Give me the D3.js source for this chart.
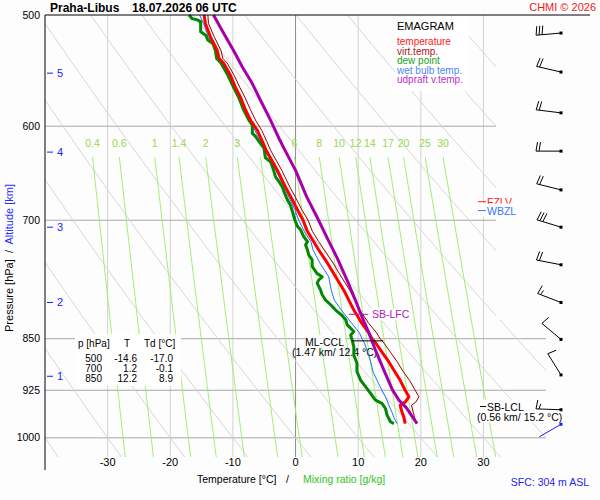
<!DOCTYPE html>
<html>
<head>
<meta charset="utf-8">
<script src="https://cdn.jsdelivr.net/npm/d3@7"></script>
<style>
  body { margin: 0; background: #fff; }
  svg text { font-family: "Liberation Sans", Arial, sans-serif; }
</style>
</head>
<body>
<div id="emagram" style="width:600px;height:500px"></div>
<script>
// sounding (pressure levels in hPa, temperatures in deg C)
const levels = [500, 507, 518, 530, 537, 541, 552, 563, 572, 584, 594, 604, 615, 624, 645, 663, 677, 688, 700, 713, 725, 735, 751, 768, 785, 798, 811, 829, 842, 850, 856, 869, 883, 898, 910, 925, 935, 943, 948, 959, 967, 977];
const temperature = [-14.6, -14.4, -13.6, -12.5, -12.2, -11.5, -10.4, -9.6, -8.8, -8.0, -7.2, -6.1, -5.3, -4.7, -2.9, -1.6, -0.5, 0.3, 1.2, 1.9, 2.9, 3.7, 5.1, 6.4, 7.7, 8.5, 9.3, 10.6, 11.7, 12.2, 12.8, 13.8, 14.9, 15.9, 16.7, 17.5, 18.1, 17.5, 16.7, 17.0, 17.3, 17.5];
const virtTemp = [-14.0, -13.9, -13.0, -11.9, -11.6, -10.9, -9.8, -8.9, -8.1, -7.2, -6.4, -5.4, -4.6, -4.0, -2.2, -0.9, 0.2, 1.0, 2.0, 2.7, 3.7, 4.6, 6.0, 7.3, 8.65, 9.45, 10.25, 11.7, 12.95, 13.5, 14.1, 15.15, 16.25, 17.25, 18.2, 19.1, 19.7, 19.2, 18.5, 18.8, 19.0, 19.3];
const wetBulb = [-15.3, -14.7, -13.9, -12.7, -12.4, -11.7, -10.6, -9.8, -9.0, -8.2, -7.35, -6.5, -5.55, -4.9, -3.15, -1.85, -0.85, -0.1, 0.5, 1.4, 2.45, 2.8, 3.9, 5.3, 5.7, 6.2, 7.3, 9.0, 10.2, 10.6, 11.0, 11.5, 12.0, 12.4, 13.0, 13.8, 14.35, 14.7, 14.9, 15.4, 15.7, 16.2];

const dewLevels = [500, 503, 504, 505.5, 514, 517, 521, 524, 530, 537, 541, 552, 563, 572, 584, 594, 599, 607, 610, 615, 622, 632, 636, 641, 645, 652, 657, 663, 668, 672, 677, 683, 690, 700, 707, 711, 719, 725, 729, 735, 741, 747, 755, 764, 768, 772, 776, 785, 791, 798, 804, 811, 818, 824, 831, 840, 845, 854, 861, 873, 885, 897, 910, 920, 930, 940, 945, 953, 963, 974, 977];
const dewPoint = [-17.0, -16.5, -15.7, -15.15, -15.15, -14.3, -14.0, -13.2, -12.8, -12.6, -11.9, -10.8, -9.9, -9.1, -8.3, -7.45, -6.9, -6.9, -6.4, -5.85, -5.05, -4.8, -4.0, -3.7, -3.5, -3.2, -2.65, -2.1, -1.85, -1.6, -1.3, -0.8, -0.5, -0.1, 0.3, 0.8, 1.3, 1.9, 1.6, 1.9, 2.1, 2.65, 2.65, 3.45, 4.25, 3.7, 3.45, 4.0, 4.25, 4.8, 5.6, 6.4, 7.4, 8.0, 8.25, 9.3, 8.8, 9.1, 9.3, 9.3, 9.8, 9.8, 10.4, 11.2, 12.0, 12.75, 13.8, 14.35, 14.6, 15.15, 15.7];

const parcelLevels = [500, 515, 530, 545, 559, 575, 594, 614, 624, 645, 674, 696, 720, 744, 772, 798, 820, 842, 866, 895, 925, 940, 952, 977];
const parcelTv = [-13.1, -11.5, -9.9, -8.45, -6.95, -5.6, -4.0, -2.5, -1.7, 0.0, 1.8, 3.4, 5.0, 6.6, 8.2, 9.55, 10.6, 11.7, 12.75, 14.1, 15.5, 16.5, 17.7, 19.4];

// winds every 0.5 km
const windP = [515, 549, 587, 625, 666, 708, 753, 801, 851, 902, 955];
const windDir = [265, 283, 277, 270, 284, 287, 281, 291, 310, 328, 272];
const windKt = [30, 20, 20, 20, 20, 30, 20, 15, 10, 10, 15];
const sfcWindP = 978, sfcWindDir = 240;

// grid
const isotherms = [-30, -20, -10, 0, 10, 20, 30];
const isobars = [500, 600, 700, 850, 925, 1000];
const thetas = [-40, -30, -20, -10, 0, 10, 20, 30, 40, 50, 60, 70, 80, 90, 100];
const mixRatios = [0.4, 0.6, 1, 1.4, 2, 3, 4, 6, 8, 10, 12, 14, 17, 20, 25, 30];
const mixLabels = [0.4, 0.6, 1, 1.4, 2, 3, 6, 8, 10, 12, 14, 17, 20, 25, 30];
const altKm = [1, 2, 3, 4, 5];
const altP = [904, 801, 708, 626, 550];

// table and legend
const tableP = [500, 700, 850];
const tableT = ["-14.6", "1.2", "12.2"];
const tableTd = ["-17.0", "-0.1", "8.9"];
const legendNames = ["temperature", "virt.temp.", "dew point", "wet bulb temp.", "udpraft v.temp."];
const legendColors = ["#ff2020", "#a52020", "#22a022", "#4a86ff", "#b830c8"];

class EmagramVis {
  constructor(parentElement) {
    this.parentElement = parentElement;
    this.initVis();
  }

  initVis() {
    let vis = this;
    vis.width = 600;
    vis.height = 500;

    vis.svg = d3
      .select("#" + vis.parentElement)
      .append("svg")
      .attr("width", vis.width)
      .attr("height", vis.height);

    vis.svg.append("rect").attr("width", vis.width).attr("height", vis.height).attr("fill", "#fdfdfd");

    vis.x = d3.scaleLinear().domain([-40, 32]).range([45, 496]);
    vis.y = d3.scaleLog().domain([500, 1050]).range([15, 467.6]);
    vis.pBottom = 1032;

    let clip = vis.svg.append("clipPath").attr("id", "plot-clip");
    clip.append("rect").attr("x", 45).attr("y", 15).attr("width", 451).attr("height", vis.y(vis.pBottom) - 15);
    clip.append("rect").attr("x", 496).attr("y", 320).attr("width", 50).attr("height", vis.y(vis.pBottom) - 320);

    vis.drawGrid();
    vis.drawBoxes();
    vis.drawProfiles();
    vis.drawMarkers();
    vis.drawWinds();
    vis.drawAxes();
  }

  drawGrid() {
    let vis = this;

    vis.svg
      .append("g")
      .selectAll("line")
      .data(isotherms)
      .join("line")
      .attr("x1", (d) => vis.x(d))
      .attr("x2", (d) => vis.x(d))
      .attr("y1", vis.y(500))
      .attr("y2", vis.y(vis.pBottom))
      .attr("stroke", (d) => (d === 0 ? "#8c8c8c" : "#d2d2d2"));

    vis.svg
      .append("g")
      .selectAll("line")
      .data(isobars.slice(1))
      .join("line")
      .attr("x1", 45)
      .attr("x2", (d) => (d >= 850 ? 546 : 496))
      .attr("y1", (d) => vis.y(d))
      .attr("y2", (d) => vis.y(d))
      .attr("stroke", "#a8a8a8");

    // dry adiabats
    let pRange = d3.range(500, vis.pBottom + 1, 4);
    let adiabat = d3
      .line()
      .x((d) => vis.x(d.t))
      .y((d) => vis.y(d.p));
    vis.svg
      .append("g")
      .attr("clip-path", "url(#plot-clip)")
      .selectAll("path")
      .data(thetas)
      .join("path")
      .attr("fill", "none")
      .attr("stroke", "#d6d6d6")
      .attr("d", (th) =>
        adiabat(pRange.map((p) => ({ p: p, t: (th + 273.15) * Math.pow(p / 1000, 0.286) - 273.15 })))
      );

    // mixing ratio lines
    let dewT = (w, p) => {
      let e = (w * p) / (622 + w);
      let l = Math.log(e / 6.112);
      return (243.5 * l) / (17.67 - l);
    };
    let pMix = d3.range(631, vis.pBottom + 1, 6).concat([vis.pBottom]);
    vis.svg
      .append("g")
      .selectAll("path")
      .data(mixRatios)
      .join("path")
      .attr("fill", "none")
      .attr("stroke", "#a2ee72")
      .attr("d", (w) => adiabat(pMix.map((p) => ({ p: p, t: dewT(w, p) }))));

    vis.svg
      .append("g")
      .selectAll("text")
      .data(mixLabels)
      .join("text")
      .attr("x", (w) => vis.x(dewT(w, 631)))
      .attr("y", vis.y(631) - 10)
      .attr("text-anchor", "middle")
      .attr("font-size", 10.5)
      .attr("fill", "#9ad84c")
      .text((w) => w);
  }

  drawBoxes() {
    let vis = this;

    // legend
    let lg = vis.svg.append("g");
    lg.append("rect").attr("x", 395).attr("y", 17).attr("width", 74).attr("height", 74).attr("fill", "#fff");
    lg.append("text").attr("x", 397).attr("y", 29.5).attr("font-size", 11).text("EMAGRAM");
    lg.selectAll(".entry")
      .data(legendNames)
      .join("text")
      .attr("class", "entry")
      .attr("x", 397)
      .attr("y", (d, i) => 45 + i * 9.6)
      .attr("font-size", 10)
      .attr("fill", (d, i) => legendColors[i])
      .text((d) => d);

    // table
    let tb = vis.svg.append("g").attr("font-size", 10);
    tb.append("rect").attr("x", 75).attr("y", 334).attr("width", 106).attr("height", 52).attr("fill", "#fff");
    tb.append("text").attr("x", 78).attr("y", 347).text("p [hPa]");
    tb.append("text").attr("x", 127).attr("y", 347).attr("text-anchor", "middle").text("T");
    tb.append("text").attr("x", 144).attr("y", 347).text("Td [°C]");
    tableP.forEach((p, i) => {
      let ry = 362 + i * 10;
      tb.append("text").attr("x", 102).attr("y", ry).attr("text-anchor", "end").text(p);
      tb.append("text").attr("x", 137).attr("y", ry).attr("text-anchor", "end").text(tableT[i]);
      tb.append("text").attr("x", 173).attr("y", ry).attr("text-anchor", "end").text(tableTd[i]);
    });

    // level labels under the profiles
    let an = vis.svg.append("g").attr("font-size", 10.5);
    let ccl = vis.y(853);
    an.append("rect").attr("x", 305).attr("y", ccl - 6).attr("width", 40).attr("height", 12).attr("fill", "#fff");
    an.append("text").attr("x", 344).attr("y", ccl + 5.5).attr("text-anchor", "end").text("ML-CCL");
    an.append("text").attr("x", 292).attr("y", ccl + 15.5).text("(1.47 km/ 12.4 °C)");

    let lfc = vis.y(816.7);
    an.append("rect").attr("x", 370).attr("y", lfc - 6).attr("width", 40).attr("height", 12).attr("fill", "#fff");
    an.append("text").attr("x", 372).attr("y", lfc + 4).attr("fill", "#b020b8").text("SB-LFC");

    let lcl = vis.y(950);
    an.append("rect").attr("x", 476).attr("y", lcl - 7).attr("width", 86).attr("height", 23).attr("fill", "#fff");
    an.append("text").attr("x", 487).attr("y", lcl + 4).text("SB-LCL");
    an.append("text").attr("x", 477).attr("y", lcl + 14.5).text("(0.56 km/ 15.2 °C)");

    let fz = vis.y(679);
    let wb = vis.y(689);
    an.append("line").attr("x1", 478).attr("x2", 486).attr("y1", fz).attr("y2", fz).attr("stroke", "#ff2020");
    an.append("text").attr("x", 487).attr("y", fz + 4).attr("fill", "#ff2020").text("FZLV");
    an.append("rect").attr("x", 478).attr("y", wb - 7).attr("width", 42).attr("height", 13).attr("fill", "#fff");
    an.append("line").attr("x1", 478).attr("x2", 486).attr("y1", wb).attr("y2", wb).attr("stroke", "#3a72ff");
    an.append("text").attr("x", 487).attr("y", wb + 4).attr("fill", "#3a72ff").text("WBZL");
  }

  drawProfiles() {
    let vis = this;
    let line = d3
      .line()
      .x((d) => vis.x(d[1]))
      .y((d) => vis.y(d[0]));

    let series = [
      { p: levels, t: virtTemp, color: "#990000", w: 1 },
      { p: levels, t: wetBulb, color: "#1f6fff", w: 1 },
      { p: dewLevels, t: dewPoint, color: "#008800", w: 3 },
      { p: levels, t: temperature, color: "#ff0000", w: 3 },
      { p: parcelLevels, t: parcelTv, color: "#a800a8", w: 3 },
    ];

    vis.svg
      .append("g")
      .selectAll("path")
      .data(series)
      .join("path")
      .attr("fill", "none")
      .attr("stroke", (d) => d.color)
      .attr("stroke-width", (d) => d.w)
      .attr("stroke-linejoin", "round")
      .attr("d", (d) => line(d.p.map((p, i) => [p, d.t[i]])));
  }

  drawMarkers() {
    let vis = this;
    let g = vis.svg.append("g");
    g.append("line")
      .attr("x1", vis.x(9.0)).attr("x2", vis.x(14.0))
      .attr("y1", vis.y(853)).attr("y2", vis.y(853))
      .attr("stroke", "#000");
    g.append("line")
      .attr("x1", vis.x(8.5)).attr("x2", vis.x(11.6))
      .attr("y1", vis.y(816.7)).attr("y2", vis.y(816.7))
      .attr("stroke", "#b020b8");
    g.append("line")
      .attr("x1", 480).attr("x2", 486)
      .attr("y1", vis.y(950)).attr("y2", vis.y(950))
      .attr("stroke", "#000");
  }

  drawWinds() {
    let vis = this;
    let g = vis.svg.append("g").attr("stroke-width", 1);
    let cx = 561;
    let L = 25;

    windP.forEach((p, i) => {
      let cy = vis.y(p);
      let a = (windDir[i] * Math.PI) / 180;
      let ux = Math.sin(a), uy = -Math.cos(a);
      let fx = -uy, fy = ux;
      g.append("line")
        .attr("x1", cx).attr("y1", cy)
        .attr("x2", cx + ux * L).attr("y2", cy + uy * L)
        .attr("stroke", "#000");
      let spd = windKt[i];
      let k = 0;
      while (spd >= 5) {
        let len = spd >= 10 ? 9 : 5;
        let sx = cx + ux * (L - k * 3), sy = cy + uy * (L - k * 3);
        g.append("line")
          .attr("x1", sx).attr("y1", sy)
          .attr("x2", sx + fx * len - ux * 1.5).attr("y2", sy + fy * len - uy * 1.5)
          .attr("stroke", "#000");
        spd -= spd >= 10 ? 10 : 5;
        k++;
      }
      g.append("rect").attr("x", cx - 1.5).attr("y", cy - 1.5).attr("width", 3).attr("height", 3).attr("fill", "#000");
    });

    let sy = vis.y(sfcWindP);
    let a = (sfcWindDir * Math.PI) / 180;
    g.append("line")
      .attr("x1", cx).attr("y1", sy)
      .attr("x2", cx + Math.sin(a) * L).attr("y2", sy - Math.cos(a) * L)
      .attr("stroke", "#1a1aff");
    g.append("rect").attr("x", cx - 1.5).attr("y", sy - 1.5).attr("width", 3).attr("height", 3).attr("fill", "#1a1aff");
  }

  drawAxes() {
    let vis = this;

    vis.svg.append("line").attr("x1", 45).attr("x2", 45).attr("y1", 15).attr("y2", 470).attr("stroke", "#000");
    vis.svg.append("line").attr("x1", 45).attr("x2", 590).attr("y1", 15).attr("y2", 15).attr("stroke", "#000");

    vis.svg
      .append("g")
      .selectAll("text")
      .data(isobars)
      .join("text")
      .attr("x", 40)
      .attr("y", (d) => vis.y(d) + 3.5)
      .attr("text-anchor", "end")
      .attr("font-size", 10.5)
      .text((d) => d);

    vis.svg
      .append("g")
      .selectAll("text")
      .data(isotherms)
      .join("text")
      .attr("x", (d) => vis.x(d))
      .attr("y", 466)
      .attr("text-anchor", "middle")
      .attr("font-size", 11)
      .text((d) => d);

    // altitude ticks
    let alt = vis.svg.append("g").attr("fill", "#1a1aff");
    altKm.forEach((km, i) => {
      let ay = vis.y(altP[i]);
      alt.append("line").attr("x1", 47).attr("x2", 53).attr("y1", ay).attr("y2", ay).attr("stroke", "#1a1aff");
      alt.append("text").attr("x", 57).attr("y", ay + 4).attr("font-size", 11).text(km);
    });

    let yt = vis.svg
      .append("text")
      .attr("transform", "translate(13,258) rotate(-90)")
      .attr("text-anchor", "middle")
      .attr("font-size", 11)
      .attr("xml:space", "preserve");
    yt.append("tspan").text("Pressure [hPa]  /  ");
    yt.append("tspan").attr("fill", "#2a2aff").text("Altitude [km]");

    vis.svg.append("text").attr("x", 197).attr("y", 483).attr("font-size", 10.5).text("Temperature [°C]");
    vis.svg.append("text").attr("x", 286).attr("y", 483).attr("font-size", 10.5).text("/");
    vis.svg.append("text").attr("x", 303).attr("y", 483).attr("font-size", 10.5).attr("fill", "#33c41e").text("Mixing ratio [g/kg]");

    vis.svg.append("text").attr("x", 589).attr("y", 486).attr("text-anchor", "end").attr("font-size", 10.5).attr("fill", "#2424ee").text("SFC: 304 m ASL");

    vis.svg.append("text").attr("x", 50).attr("y", 12).attr("font-size", 12).attr("font-weight", "bold").text("Praha-Libus");
    vis.svg.append("text").attr("x", 132).attr("y", 12).attr("font-size", 12).attr("font-weight", "bold").text("18.07.2026 06 UTC");
    vis.svg.append("text").attr("x", 596).attr("y", 11).attr("text-anchor", "end").attr("font-size", 11).attr("fill", "#ee2020").text("CHMI © 2026");
  }
}

new EmagramVis("emagram");
</script>
</body>
</html>
